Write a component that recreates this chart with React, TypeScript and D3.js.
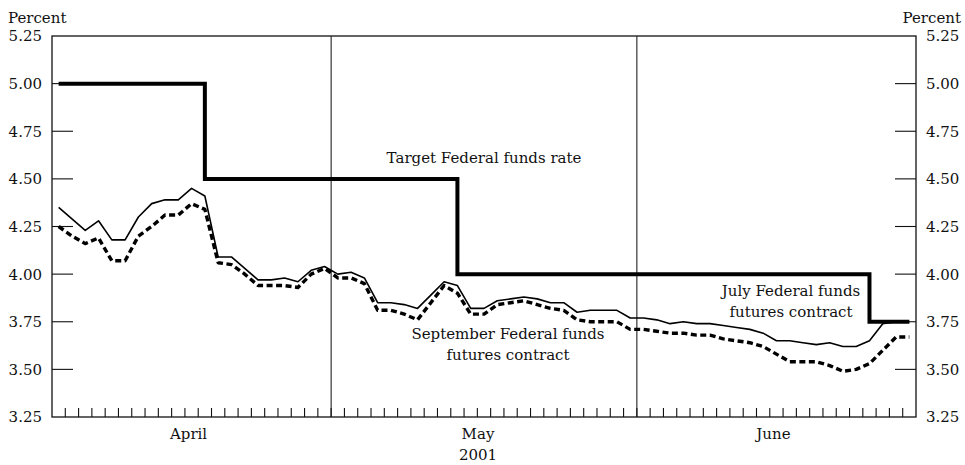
import React from "react";
import * as d3 from "d3";

// ---- data ----
const months = ["April", "May", "June"];
const monthDays = [21, 23, 21]; // business days per month, 2001
const yearLabel = "2001";

const julyFutures = [
  4.35, 4.29, 4.23, 4.28, 4.18, 4.18, 4.30, 4.37, 4.39, 4.39, 4.45, 4.41,
  4.09, 4.09, 4.03, 3.97, 3.97, 3.98, 3.96, 4.02, 4.04,
  4.00, 4.01, 3.98, 3.85, 3.85, 3.84, 3.82, 3.89, 3.96, 3.94, 3.82, 3.82,
  3.86, 3.87, 3.88, 3.87, 3.85, 3.85, 3.80, 3.81, 3.81, 3.81, 3.77,
  3.77, 3.76, 3.74, 3.75, 3.74, 3.74, 3.73, 3.72, 3.71, 3.69, 3.65, 3.65,
  3.64, 3.63, 3.64, 3.62, 3.62, 3.65, 3.74, 3.75, 3.75,
];

const septFutures = [
  4.25, 4.20, 4.16, 4.19, 4.07, 4.07, 4.20, 4.25, 4.31, 4.31, 4.37, 4.34,
  4.06, 4.05, 4.00, 3.94, 3.94, 3.94, 3.93, 4.00, 4.03,
  3.98, 3.98, 3.95, 3.81, 3.81, 3.79, 3.76, 3.85, 3.94, 3.90, 3.79, 3.79,
  3.84, 3.85, 3.86, 3.84, 3.82, 3.81, 3.76, 3.75, 3.75, 3.75, 3.71,
  3.71, 3.70, 3.69, 3.69, 3.68, 3.68, 3.66, 3.65, 3.64, 3.62, 3.58, 3.54,
  3.54, 3.54, 3.52, 3.49, 3.50, 3.53, 3.60, 3.67, 3.67,
];

const targetStartDay = [0, 12, 31, 62];
const targetRate = [5.0, 4.5, 4.0, 3.75];

const yTicks = [3.25, 3.5, 3.75, 4.0, 4.25, 4.5, 4.75, 5.0, 5.25];

// ---- layout ----
const W = 965;
const H = 465;
const M = { left: 52, right: 916, top: 36, bottom: 417 };
const FONT = "'DejaVu Serif', serif";

export default function App() {
  const nDays = d3.sum(monthDays);
  const days = d3.range(nDays);
  const x = d3.scaleBand<number>().domain(days).range([M.left, M.right]).padding(0);
  const bw = x.bandwidth();
  const cx = (i: number) => (x(i) as number) + bw / 2;
  const y = d3.scaleLinear().domain([3.25, 5.25]).range([M.bottom, M.top]);

  const target = days.map((i) => {
    let v = targetRate[0];
    targetStartDay.forEach((s, k) => {
      if (i >= s) v = targetRate[k];
    });
    return v;
  });

  const lineGen = d3
    .line<number>()
    .x((_, i) => cx(i))
    .y((d) => y(d));
  const stepGen = d3
    .line<number>()
    .x((_, i) => cx(i))
    .y((d) => y(d))
    .curve(d3.curveStepBefore);

  // month boundaries
  const monthStart = monthDays.map((_, k) => d3.sum(monthDays.slice(0, k)));
  const monthEdges = monthStart.slice(1).map((s) => x(s) as number);
  const monthCenters = monthStart.map((s, k) => {
    const a = x(s) as number;
    const b = k === months.length - 1 ? M.right : (x(s + monthDays[k]) as number);
    return (a + b) / 2;
  });
  const monthLabelShift = [-3, -6, -3];

  const tickLen = 21;

  return (
    <svg width={W} height={H} style={{ display: "block", position: "absolute", left: 0, top: 0 }}>
      <rect x={0} y={0} width={W} height={H} fill="#fff" />
      {/* frame */}
      <rect
        x={M.left}
        y={M.top}
        width={M.right - M.left}
        height={M.bottom - M.top}
        fill="none"
        stroke="#111"
        strokeWidth={1.3}
      />
      {/* month separators */}
      {monthEdges.map((e, k) => (
        <line key={"sep" + k} x1={e} x2={e} y1={M.top} y2={M.bottom} stroke="#222" strokeWidth={1.1} />
      ))}
      {/* day ticks */}
      {days.slice(1).map((i) => (
        <line
          key={"dt" + i}
          x1={x(i) as number}
          x2={x(i) as number}
          y1={M.bottom}
          y2={M.bottom - 9}
          stroke="#111"
          strokeWidth={1.1}
        />
      ))}
      {/* y ticks & labels */}
      {yTicks.map((t) => (
        <g key={"yt" + t}>
          {t > 3.25 && t < 5.25 && (
            <>
              <line x1={M.left} x2={M.left + tickLen} y1={y(t)} y2={y(t)} stroke="#111" strokeWidth={1.1} />
              <line x1={M.right - tickLen} x2={M.right} y1={y(t)} y2={y(t)} stroke="#111" strokeWidth={1.1} />
            </>
          )}
          <text x={42} y={y(t)} dy="0.36em" textAnchor="end" fontFamily={FONT} fontSize={15} fill="#111">
            {t.toFixed(2)}
          </text>
          <text x={926} y={y(t)} dy="0.36em" textAnchor="start" fontFamily={FONT} fontSize={15} fill="#111">
            {t.toFixed(2)}
          </text>
        </g>
      ))}
      <text x={8} y={23} fontFamily={FONT} fontSize={15} fill="#111">
        Percent
      </text>
      <text x={961} y={23} textAnchor="end" fontFamily={FONT} fontSize={15} fill="#111">
        Percent
      </text>
      {/* month labels */}
      {months.map((m, k) => (
        <text
          key={m}
          x={monthCenters[k] + monthLabelShift[k]}
          y={439}
          textAnchor="middle"
          fontFamily={FONT}
          fontSize={15}
          fill="#111"
        >
          {m}
        </text>
      ))}
      <text x={monthCenters[1] + monthLabelShift[1]} y={460} textAnchor="middle" fontFamily={FONT} fontSize={15} fill="#111">
        {yearLabel}
      </text>

      {/* series */}
      <path d={stepGen(target) || ""} fill="none" stroke="#000" strokeWidth={4} strokeLinejoin="miter" />
      <path d={lineGen(julyFutures) || ""} fill="none" stroke="#000" strokeWidth={1.6} strokeLinejoin="round" />
      <path
        d={lineGen(septFutures) || ""}
        fill="none"
        stroke="#000"
        strokeWidth={3.4}
        strokeDasharray="6,3.5"
        strokeLinejoin="round"
      />

      {/* annotations */}
      <text x={484} y={163} textAnchor="middle" fontFamily={FONT} fontSize={15} fill="#111">
        Target Federal funds rate
      </text>
      <text x={508} y={339} textAnchor="middle" fontFamily={FONT} fontSize={15} fill="#111">
        September Federal funds
      </text>
      <text x={508} y={360} textAnchor="middle" fontFamily={FONT} fontSize={15} fill="#111">
        futures contract
      </text>
      <text x={791} y={296} textAnchor="middle" fontFamily={FONT} fontSize={15} fill="#111">
        July Federal funds
      </text>
      <text x={791} y={317} textAnchor="middle" fontFamily={FONT} fontSize={15} fill="#111">
        futures contract
      </text>
    </svg>
  );
}
